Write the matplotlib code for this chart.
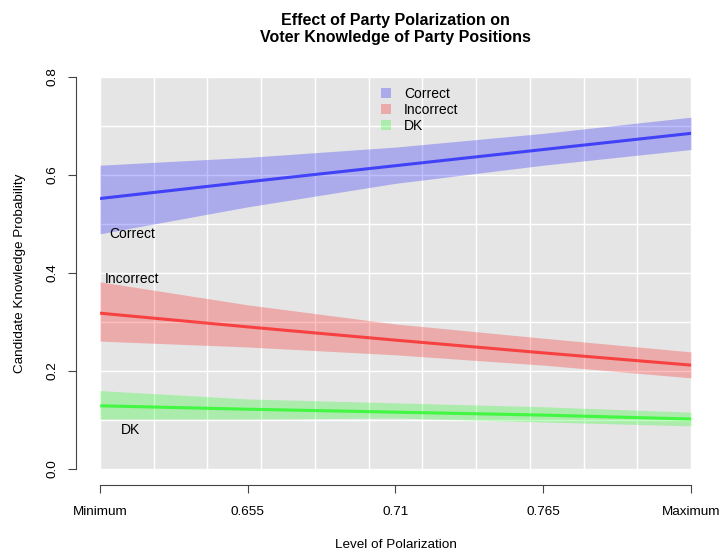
"""Effect of party polarization on voter knowledge"""
import matplotlib
matplotlib.use('Agg')
from matplotlib import pyplot as plt
from matplotlib.patches import Patch

plt.rcParams['font.family'] = ['Liberation Sans', 'DejaVu Sans']

# polarization levels (Minimum .. Maximum)
polar = [0.6, 0.655, 0.71, 0.765, 0.82]
xtick_labels = ['Minimum', '0.655', '0.71', '0.765', 'Maximum']

# predicted probabilities with confidence bands
correct = [0.552, 0.586, 0.619, 0.652, 0.685]
correct_hi = [0.620, 0.636, 0.657, 0.685, 0.718]
correct_lo = [0.480, 0.535, 0.583, 0.620, 0.652]

incorrect = [0.318, 0.290, 0.263, 0.237, 0.212]
incorrect_hi = [0.382, 0.335, 0.296, 0.267, 0.239]
incorrect_lo = [0.261, 0.249, 0.233, 0.212, 0.186]

dk = [0.129, 0.122, 0.116, 0.110, 0.102]
dk_hi = [0.160, 0.143, 0.135, 0.127, 0.116]
dk_lo = [0.102, 0.102, 0.104, 0.096, 0.088]

fig = plt.figure(figsize=(7.2, 5.52), dpi=100)
ax = fig.add_axes([100 / 720, 1 - 469 / 552, 591 / 720, 392 / 552])
ax.set_xlim(0.6, 0.82)
ax.set_ylim(0, 0.8)
ax.set_facecolor('#e5e5e5')

# white grid
for gx in [0.6 + 0.02 * i for i in range(12)]:
    ax.axvline(gx, color='white', lw=1, zorder=1)
for gy in [0.1 * i for i in range(9)]:
    ax.axhline(gy, color='white', lw=1, zorder=1)

series = [
    ('Correct', correct, correct_lo, correct_hi, (0, 0, 1)),
    ('Incorrect', incorrect, incorrect_lo, incorrect_hi, (1, 0, 0)),
    ('DK', dk, dk_lo, dk_hi, (0, 1, 0)),
]
handles = []
for name, mid, lo, hi, col in series:
    ax.fill_between(polar, lo, hi, color=col, alpha=0.25, lw=0, zorder=2)
    ax.plot(polar, mid, color=col, alpha=0.62, lw=2.2, zorder=3)
    handles.append(Patch(facecolor=col, alpha=0.25, edgecolor='none'))

# in-plot labels
ax.text(0.6119, 0.480, 'Correct', ha='center', va='center', fontsize=10)
ax.text(0.6119, 0.388, 'Incorrect', ha='center', va='center', fontsize=10)
ax.text(0.6115, 0.080, 'DK', ha='center', va='center', fontsize=10)

ax.legend(handles, [s[0] for s in series], loc='upper left',
          bbox_to_anchor=(0.466, 0.988), frameon=False, fontsize=10,
          handlelength=0.72, handleheight=0.72, handletextpad=0.95,
          labelspacing=0.12, borderaxespad=0)

# R-style detached axes
for s in ['top', 'right']:
    ax.spines[s].set_visible(False)
ax.spines['left'].set_position(('outward', 17.3))
ax.spines['bottom'].set_position(('outward', 11.5))
ax.spines['left'].set_bounds(0, 0.8)
ax.spines['bottom'].set_bounds(0.6, 0.82)
for s in ['left', 'bottom']:
    ax.spines[s].set_color('#444444')
ax.set_xticks(polar)
ax.set_xticklabels(xtick_labels)
ax.set_yticks([0, 0.2, 0.4, 0.6, 0.8])
ax.set_yticklabels(['0.0', '0.2', '0.4', '0.6', '0.8'], rotation=90, va='center')
ax.tick_params(axis='both', length=5.8, color='#444444', labelsize=9.7)
ax.tick_params(axis='x', pad=9)
ax.tick_params(axis='y', pad=6.5)

ax.set_xlabel('Level of Polarization', fontsize=9.7, labelpad=15.5)
ax.set_ylabel('Candidate Knowledge Probability', fontsize=9.7, labelpad=15)
ax.set_title('Effect of Party Polarization on\nVoter Knowledge of Party Positions',
             fontsize=11.5, fontweight='bold', pad=25)

fig.savefig('out.png', dpi=100)
